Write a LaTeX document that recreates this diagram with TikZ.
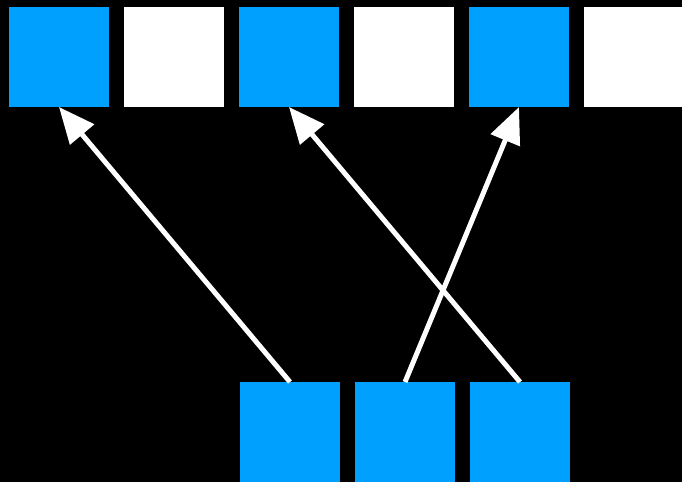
\documentclass[tikz,border=0pt]{standalone}
\usepackage{tikz}
\usetikzlibrary{arrows.meta, positioning}

\definecolor{cellblue}{HTML}{00A0FF}

\tikzset{
  cell/.style={minimum size=75pt, inner sep=0pt, outer sep=0pt},
  picked/.style={cell, fill=cellblue},
  empty/.style={cell, fill=white},
  move/.style={white, line width=3.75pt, -{Triangle[length=27pt, width=23pt]}}
}

\begin{document}
\begin{tikzpicture}[x=0.75pt, y=0.75pt]
      \useasboundingbox (0,0) rectangle (682,-482);
      \clip (0,0) rectangle (682,-482);
      \fill[black] (0,0) rectangle (682,-482);
      % top row, blue and white alternating
      \foreach \i/\s in {1/picked, 2/empty, 3/picked, 4/empty, 5/picked, 6/empty}
      \node[\s] (t\i) at ({59+115*(\i-1)}, -57) {};
      % bottom row
      \foreach \i in {1,2,3}
      \node[picked] (b\i) at ({290+115*(\i-1)}, -432) {};
      \draw[move] (b1.north) -- (t1.south);
      \draw[move] (b3.north) -- (t3.south);
      \draw[move] (b2.north) -- (t5.south);
    \end{tikzpicture}
\end{document}
